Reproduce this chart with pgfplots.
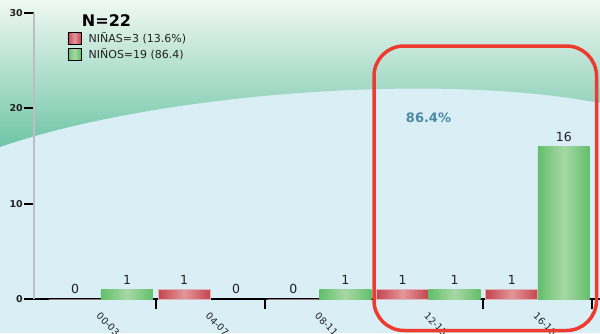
\documentclass[border=0pt]{standalone}
\usepackage{pgfplots}
\pgfplotsset{compat=1.18}
\usepackage{fontspec}
\setmainfont{DejaVu Sans}
\definecolor{bgblue}{HTML}{DAEEF5}
\definecolor{wavetop}{HTML}{F0F8F4}
\definecolor{wavebot}{HTML}{6FC5A7}
\definecolor{rededge}{HTML}{C4454D}
\definecolor{redmid}{HTML}{E3969B}
\definecolor{redborder}{HTML}{E2B4BA}
\definecolor{greenedge}{HTML}{63BF6B}
\definecolor{greenmid}{HTML}{A7D8A6}
\definecolor{boxred}{HTML}{EE3B30}
\definecolor{pctblue}{HTML}{4A8AA2}
\definecolor{axisgray}{HTML}{BDBDC6}
\definecolor{textgray}{HTML}{222222}
\pgfplotsset{
  nina/.style={ybar, bar width=0.476, bar shift=-0.238, draw=redborder, line width=0.6pt,
    left color=rededge, right color=rededge, middle color=redmid, forget plot,
    every node near coord/.append style={xshift=-26pt}},
  nino/.style={ybar, bar width=0.476, bar shift=0.238, draw=none,
    left color=greenedge, right color=greenedge, middle color=greenmid, forget plot,
    every node near coord/.append style={xshift=26pt}},
}
\begin{document}
\begin{tikzpicture}[x=1pt,y=1pt]
\useasboundingbox (0,0) rectangle (600,333);
\clip (0,0) rectangle (600,333);
\fill[bgblue] (0,0) rectangle (600,333);
\shade[top color=wavetop, bottom color=wavebot] (0,333) -- (0,186) .. controls (150,238) and (430,262) .. (600,230) -- (600,333) -- cycle;
\begin{axis}[
  at={(33.5pt,34pt)}, anchor=south west, scale only axis,
  width=566.5pt, height=286pt,
  xmin=-0.618, xmax=4.57, ymin=0, ymax=30,
  axis lines*=left,
  x axis line style={-, black, line width=2pt},
  y axis line style={-, axisgray, line width=2pt},
  /pgf/number format/assume math mode=true,
  ytick={0,10,20,30},
  tick align=outside,
  major tick length=9.5pt,
  tick style={black, line width=2pt},
  yticklabel style={font=\bfseries\fontsize{9.5}{10}\selectfont, text=textgray, inner sep=1pt},
  xtick={0.5,1.5,2.5,3.5,4.5},
  xticklabels={},
  extra x ticks={0,1,2,3,4},
  extra x tick labels={00-03,04-07,08-11,12-15,16-18},
  extra x tick style={major tick length=0pt, tick style={draw=none},
    xticklabel style={rotate=-45, anchor=north west, font=\fontsize{9.5}{11}\selectfont, text=textgray, inner sep=1pt, yshift=-8pt, xshift=8pt}},
  nodes near coords,
  every node near coord/.append style={font=\fontsize{12.5}{14}\selectfont, text=textgray, anchor=south, inner sep=5pt},
  legend style={at={(0.0601,0.9388)}, anchor=north west, draw=none, fill=none, inner sep=0pt,
    nodes={inner sep=1.5pt},
    font=\fontsize{11}{13}\selectfont, text=textgray, row sep=2pt, cells={anchor=west}},
]
\addlegendimage{legend image code/.code={\fill[left color=rededge, right color=rededge, middle color=redmid] (0pt,-6pt) rectangle (13pt,6pt); \path (19pt,0pt);}}
\addlegendentry{NIÑAS=3 (13.6\%)}
\addlegendimage{legend image code/.code={\fill[left color=greenedge, right color=greenedge, middle color=greenmid] (0pt,-6pt) rectangle (13pt,6pt); \path (19pt,0pt);}}
\addlegendentry{NIÑOS=19 (86.4)}
% NIÑAS
\addplot[nina] coordinates {(0,0)};
\addplot[nina] coordinates {(1,1)};
\addplot[nina] coordinates {(2,0)};
\addplot[nina] coordinates {(3,1)};
\addplot[nina] coordinates {(4,1)};
% NIÑOS
\addplot[nino] coordinates {(0,1)};
\addplot[nino] coordinates {(1,0)};
\addplot[nino] coordinates {(2,1)};
\addplot[nino] coordinates {(3,1)};
\addplot[nino] coordinates {(4,16)};
\end{axis}
\node[font=\bfseries\fontsize{16}{18}\selectfont, text=black, anchor=base] at (106.5,306) {N=22};
\node[font=\bfseries\fontsize{13}{15}\selectfont, text=pctblue] at (428.5,215.5) {86.4\%};
\draw[boxred, line width=3.5pt, rounded corners=30pt] (374,2.5) rectangle (596.5,287);
\end{tikzpicture}
\end{document}
